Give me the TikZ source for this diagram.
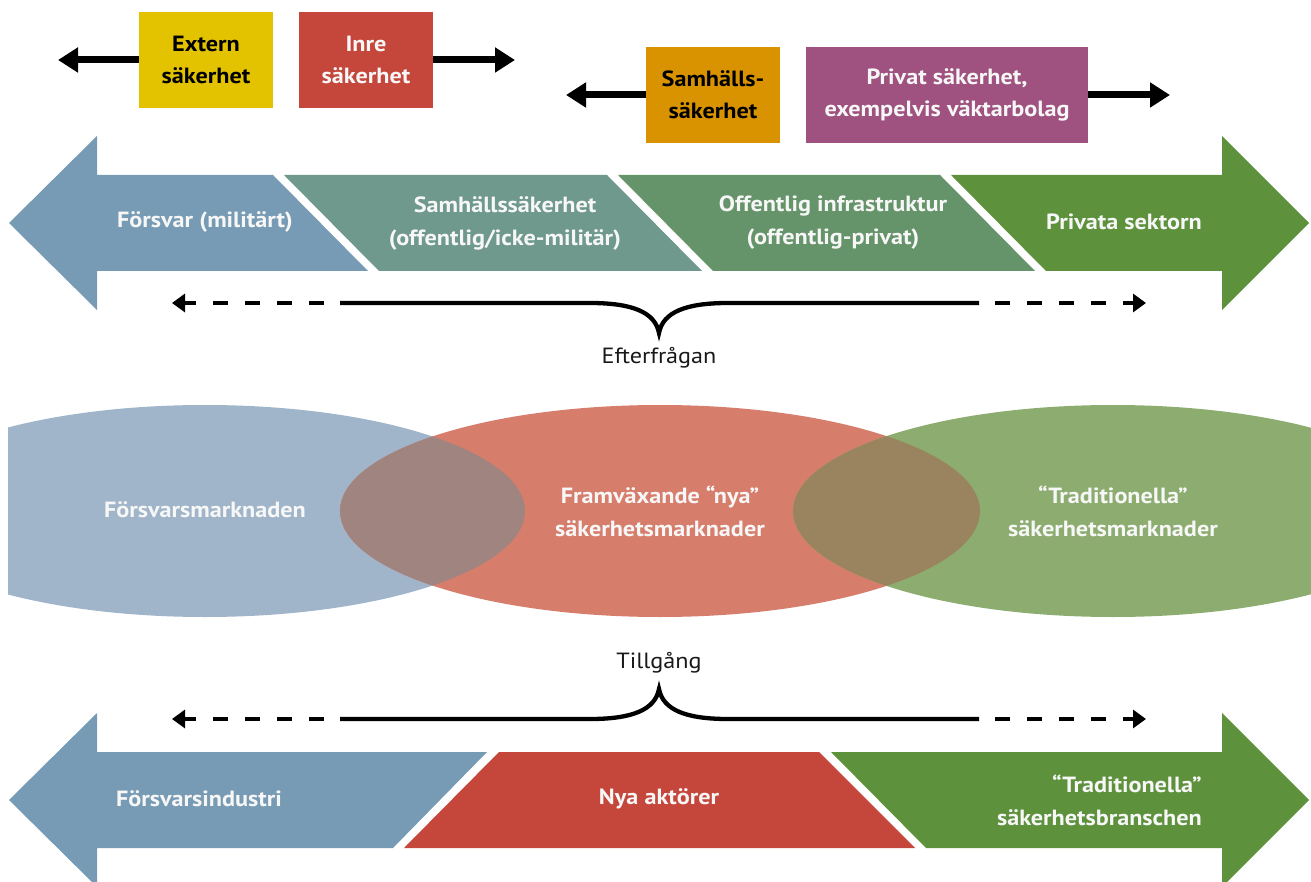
\documentclass[tikz,border=0pt]{standalone}
\usepackage{fontspec}
\setmainfont{PT Sans}[FakeStretch=1.1]
\usetikzlibrary{arrows.meta}
\definecolor{cyellow}{HTML}{E3C300}
\definecolor{cred}{HTML}{C5473B}
\definecolor{corange}{HTML}{DA9300}
\definecolor{cpurple}{HTML}{9F527F}
\definecolor{cblue}{HTML}{779BB4}
\definecolor{cteal}{HTML}{6E998C}
\definecolor{cmidgreen}{HTML}{66946A}
\definecolor{cgreen}{HTML}{5D913C}
\definecolor{elblue}{HTML}{A0B5C9}
\definecolor{elred}{HTML}{D77D6B}
\definecolor{elgreen}{HTML}{8CAD6F}
\definecolor{lensleft}{HTML}{A08480}
\definecolor{lensright}{HTML}{9A845F}
\definecolor{txtwhite}{HTML}{F7F7F7}
\begin{document}
\begin{tikzpicture}[x=1pt,y=-1pt,
  topbox/.style={minimum height=96pt,inner sep=0pt,align=center,font=\bfseries\fontsize{22}{32}\selectfont},
  toparrow/.style={line width=7pt,-{Triangle[length=20pt,width=24pt]}},
  bracearrow/.style={line width=4.3pt,dash pattern=on 15pt off 17pt,-{Triangle[length=13pt,width=18pt]}},
  bracesolid/.style={line width=4.3pt},
  wlabel/.style={text=txtwhite,align=center,inner sep=0pt,font=\bfseries\fontsize{22}{33}\selectfont},
  plainlabel/.style={text=black!90,inner sep=0pt,font=\fontsize{22}{26}\selectfont}]
\useasboundingbox (0,0) rectangle (1311,882);
\clip (0,0) rectangle (1311,882);

% top boxes
\node[topbox,fill=cyellow,minimum width=134pt,text=black] (extern) at (206,60) {Extern\\säkerhet};
\node[topbox,fill=cred,minimum width=134pt,text=txtwhite] (inre) at (366,60) {Inre\\säkerhet};
\node[topbox,fill=corange,minimum width=134pt,text=black] (samh) at (713,95) {Samhälls-\\säkerhet};
\node[topbox,fill=cpurple,minimum width=282pt,text=txtwhite] (privat) at (947,95) {Privat säkerhet,\\exempelvis väktarbolag};
\coordinate (tExtern) at (58,60);
\coordinate (tInre) at (515,60);
\coordinate (tSamh) at (566,95);
\coordinate (tPrivat) at (1170,95);
\draw[toparrow] (extern.west) -- (tExtern);
\draw[toparrow] (inre.east) -- (tInre);
\draw[toparrow] (samh.west) -- (tSamh);
\draw[toparrow] (privat.east) -- (tPrivat);

% row 1 band
\fill[cblue] (9,223) -- (97,136) -- (97,175) -- (273,175) -- (368,271) -- (97,271) -- (97,310) -- cycle;
\fill[cteal] (284,175) -- (607,175) -- (702,271) -- (379,271) -- cycle;
\fill[cmidgreen] (618,175) -- (940,175) -- (1035,271) -- (713,271) -- cycle;
\fill[cgreen] (951,175) -- (1222,175) -- (1222,136) -- (1309,223) -- (1222,310) -- (1222,271) -- (1046,271) -- cycle;
\node[wlabel,anchor=west] (forsvar) at (117,222) {Försvar (militärt)};
\node[wlabel] (samhsak) at (505,223) {Samhällssäkerhet\\(offentlig/icke-militär)};
\node[wlabel] (offinfra) at (833,223) {Offentlig infrastruktur\\(offentlig-privat)};
\node[wlabel,anchor=east] (privsek) at (1202,222) {Privata sektorn};

% upper brace
\coordinate (b1L) at (172,303);
\coordinate (b1Ld) at (324,303);
\coordinate (b1Ls) at (340,303);
\coordinate (b1Lc) at (590,303);
\coordinate (b1tip) at (659,333);
\coordinate (b1Rc) at (728,303);
\coordinate (b1Rs) at (979,303);
\coordinate (b1Rd) at (995,303);
\coordinate (b1R) at (1146,303);
\draw[bracesolid,line join=miter] (b1Ls) -- (b1Lc) .. controls (632,303) and (655,312) .. (b1tip) .. controls (663,312) and (686,303) .. (b1Rc) -- (b1Rs);
\draw[bracearrow] (b1Ld) -- (b1L);
\draw[bracearrow] (b1Rd) -- (b1R);
\node[plainlabel] (efter) at (659,358) {Efterfrågan};

% ellipses
\begin{scope}
\clip (8,0) rectangle (1311,882);
\fill[elblue] (205,511) ellipse [x radius=320, y radius=106];
\fill[elred] (660,511) ellipse [x radius=320, y radius=106];
\fill[elgreen] (1113,511) ellipse [x radius=320, y radius=106];
\end{scope}
\begin{scope}
\clip (205,511) ellipse [x radius=320, y radius=106];
\fill[lensleft] (660,511) ellipse [x radius=320, y radius=106];
\end{scope}
\begin{scope}
\clip (660,511) ellipse [x radius=320, y radius=106];
\fill[lensright] (1113,511) ellipse [x radius=320, y radius=106];
\end{scope}
\node[wlabel] (fmark) at (205,510) {Försvarsmarknaden};
\node[wlabel] (nyamark) at (660,511) {Framväxande “nya”\\säkerhetsmarknader};
\node[wlabel] (tradmark) at (1113,511) {“Traditionella”\\säkerhetsmarknader};

% lower brace
\node[plainlabel] (tillg) at (659,663) {Tillgång};
\coordinate (b2L) at (172,719);
\coordinate (b2Ld) at (324,719);
\coordinate (b2Ls) at (340,719);
\coordinate (b2Lc) at (590,719);
\coordinate (b2tip) at (659,689);
\coordinate (b2Rc) at (728,719);
\coordinate (b2Rs) at (979,719);
\coordinate (b2Rd) at (995,719);
\coordinate (b2R) at (1146,719);
\draw[bracesolid,line join=miter] (b2Ls) -- (b2Lc) .. controls (632,719) and (655,710) .. (b2tip) .. controls (663,710) and (686,719) .. (b2Rc) -- (b2Rs);
\draw[bracearrow] (b2Ld) -- (b2L);
\draw[bracearrow] (b2Rd) -- (b2R);

% row 3 band
\fill[cblue] (9,800) -- (97,713) -- (97,752) -- (487,752) -- (393,848) -- (97,848) -- (97,887) -- cycle;
\fill[cred] (499,752) -- (819,752) -- (915,848) -- (404,848) -- cycle;
\fill[cgreen] (831,752) -- (1222,752) -- (1222,713) -- (1309,800) -- (1222,887) -- (1222,848) -- (926,848) -- cycle;
\node[wlabel,anchor=west] (findustri) at (116,799) {Försvarsindustri};
\node[wlabel] (nyaakt) at (659,799) {Nya aktörer};
\node[wlabel,anchor=east,align=right] (tradbransch) at (1202,800) {“Traditionella”\\säkerhetsbranschen};
\end{tikzpicture}
\end{document}
